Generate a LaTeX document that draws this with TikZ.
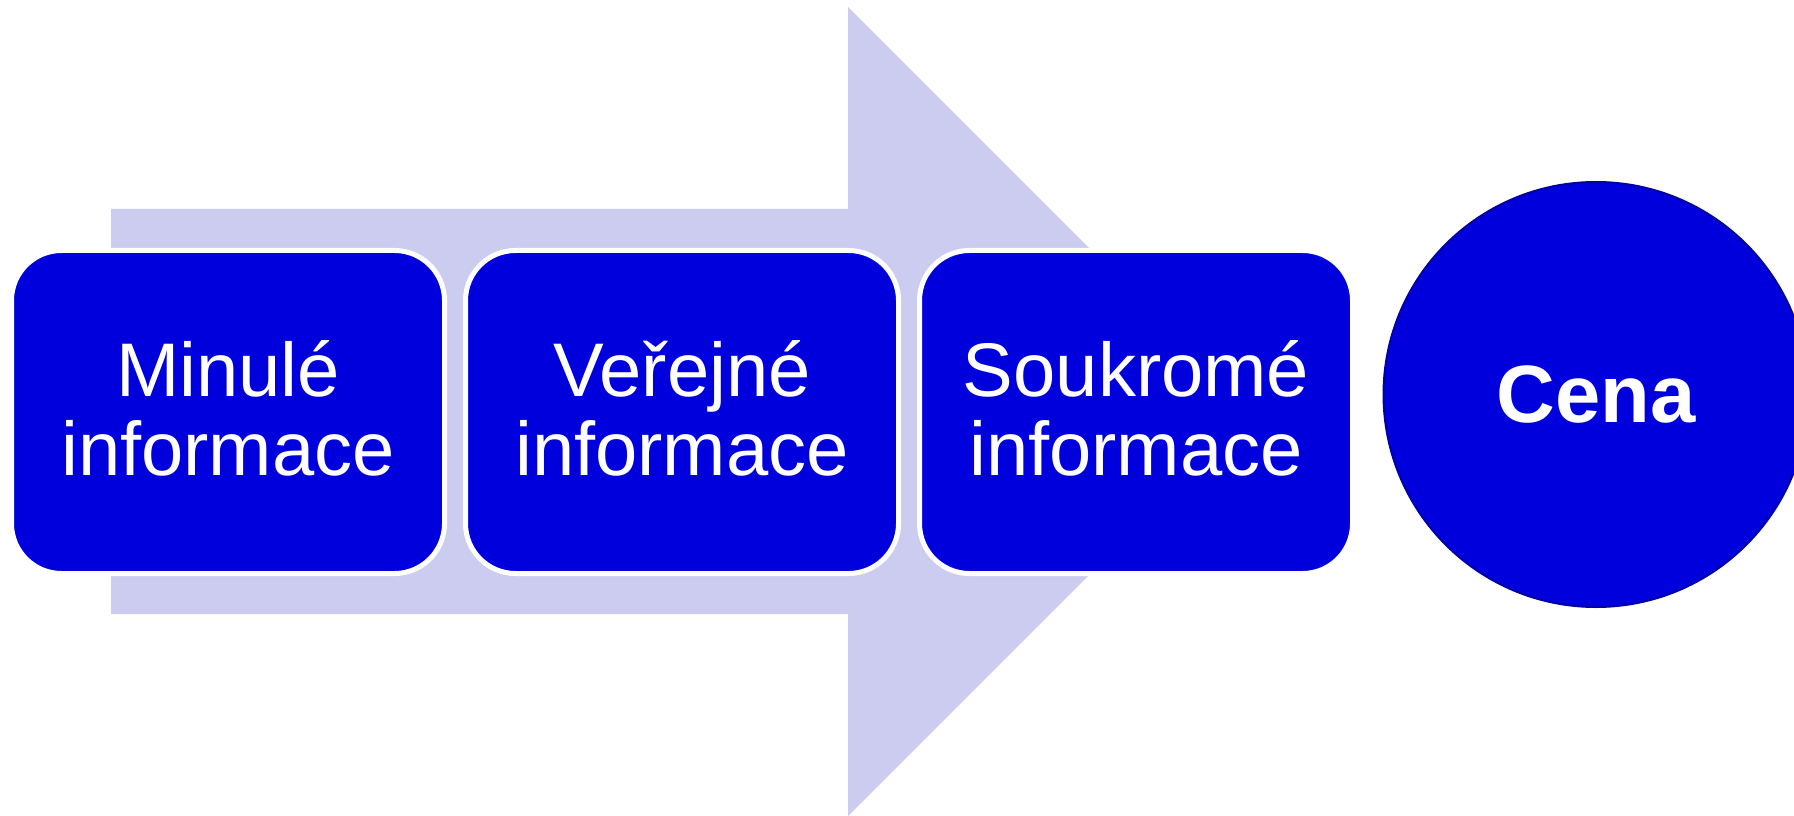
\documentclass[tikz,border=0pt]{standalone}
\usepackage{fontspec}
\setmainfont{Liberation Sans}
\usepackage{xcolor}
\usepackage{tikz}

\definecolor{arrowfill}{RGB}{204,204,240}
\definecolor{boxblue}{RGB}{0,0,220}
\definecolor{ringblue}{RGB}{0,0,165}

\begin{document}
\begin{tikzpicture}[x=0.75pt,y=0.75pt,yscale=-1,xscale=1,
    infobox/.style={draw=white, fill=boxblue, line width=3.75pt, rounded corners=37.5pt,
        minimum width=324.75pt, minimum height=242.25pt, inner sep=0pt,
        align=center, text=white, font=\fontsize{57}{59}\selectfont,
        execute at end node={\rule[-6pt]{0pt}{0pt}}},
    pricecircle/.style={circle, draw=ringblue, fill=boxblue, line width=1.5pt,
        minimum size=318.75pt, inner sep=0pt, text=white,
        font=\fontsize{61}{70}\selectfont\bfseries}]

    \useasboundingbox (0,0) rectangle (1794,816);

        \fill [arrowfill] (111,209) -- (848,209) -- (848,7) -- (1252.5,411.5) -- (848,816) -- (848,614) -- (111,614) -- cycle ;

        \node [infobox] (past) at (228,412) {Minulé\\informace};
        \node [infobox] (public) at (682,412) {Veřejné\\informace};
        \node [infobox] (private) at (1136,412) {Soukromé\\informace};

        \node [pricecircle] (price) at (1596,394.5) {Cena};

    \end{tikzpicture}
\end{document}
